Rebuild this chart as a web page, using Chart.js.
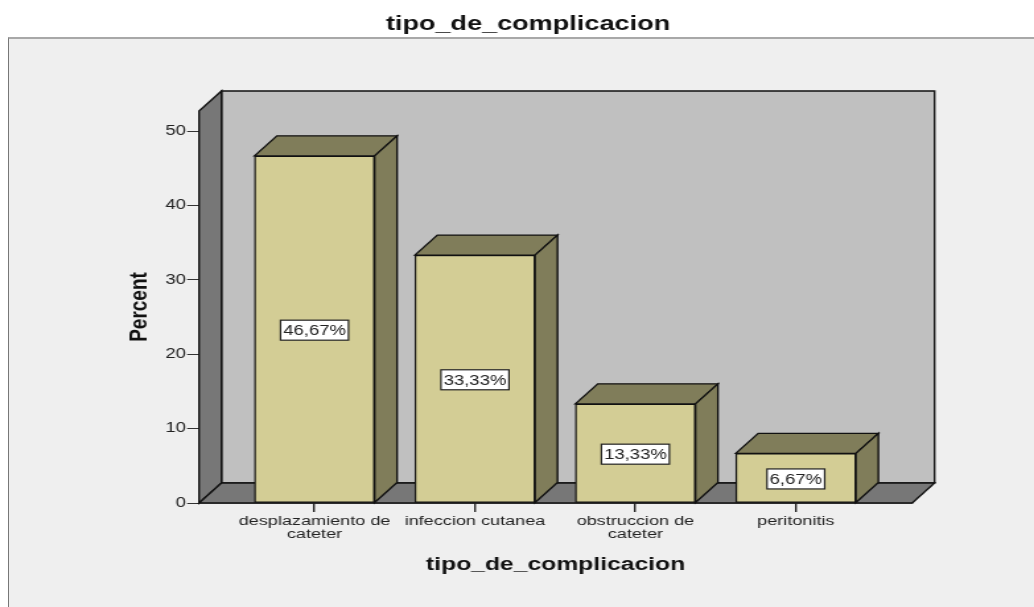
<!DOCTYPE html>
<html lang="en">
<head>
    <meta charset="UTF-8" />
    <title>tipo_de_complicacion</title>
    <script src="https://cdn.jsdelivr.net/npm/chart.js"></script>
    <style>
        html, body { margin: 0; padding: 0; background: #fff; overflow: hidden; }
        #frame {
            position: absolute; left: 8px; top: 37px; right: 0; bottom: 0;
            background: #efefef; border-left: 1.5px solid #777; border-top: 2px solid #a8a8a8;
        }
        /* the reference picture is stretched sideways, so the canvas is too */
        #chart {
            position: absolute; left: 0; top: 0;
            transform-origin: 0 0; transform: scaleX(1.3206);
            filter: blur(0.6px);
        }
    </style>
</head>
<body>
    <div id="frame"></div>
    <canvas id="chart" width="783" height="607"></canvas>

    <script>
        const titleText = 'tipo_de_complicacion';
        const yTitle = 'Percent';
        const tickLabels = [['desplazamiento de', 'cateter'], 'infeccion cutanea', ['obstruccion de', 'cateter'], 'peritonitis'];
        const percents = [46.67, 33.33, 13.33, 6.67];
        const yTicks = [0, 10, 20, 30, 40, 50];

        const depthX = 17;   // 3d offset in canvas pixels
        const depthY = 20;

        function poly(ctx, pts, fill) {
            ctx.beginPath();
            pts.forEach((p, i) => i ? ctx.lineTo(p[0], p[1]) : ctx.moveTo(p[0], p[1]));
            ctx.closePath();
            ctx.fillStyle = fill;
            ctx.fill();
            ctx.strokeStyle = '#111';
            ctx.lineWidth = 1.4;
            ctx.stroke();
        }

        const box3d = {
            id: 'box3d',
            beforeDatasetsDraw(chart) {
                const ctx = chart.ctx;
                const { left, right, top, bottom } = chart.chartArea;
                ctx.save();
                poly(ctx, [[left + depthX, top - depthY], [right + depthX, top - depthY], [right + depthX, bottom - depthY], [left + depthX, bottom - depthY]], '#c0c0c0');
                poly(ctx, [[left, bottom], [left, top], [left + depthX, top - depthY], [left + depthX, bottom - depthY]], '#777777');
                poly(ctx, [[left, bottom], [left + depthX, bottom - depthY], [right + depthX, bottom - depthY], [right, bottom]], '#777777');
                ctx.restore();
            },
            afterDatasetsDraw(chart) {
                const ctx = chart.ctx;
                ctx.save();
                chart.getDatasetMeta(0).data.forEach((bar, i) => {
                    const l = bar.x - bar.width / 2;
                    const r = bar.x + bar.width / 2;
                    poly(ctx, [[l, bar.y], [l + depthX, bar.y - depthY], [r + depthX, bar.y - depthY], [r, bar.y]], '#807d5a');
                    poly(ctx, [[r, bar.y], [r + depthX, bar.y - depthY], [r + depthX, bar.base - depthY], [r, bar.base]], '#807d5a');

                    const label = percents[i].toFixed(2).replace('.', ',') + '%';
                    ctx.font = '14px "Liberation Sans"';
                    const w = ctx.measureText(label).width + 4;
                    const cy = (bar.y + bar.base) / 2 + 1;
                    ctx.fillStyle = '#fff';
                    ctx.strokeStyle = '#222';
                    ctx.lineWidth = 1.2;
                    ctx.fillRect(bar.x - w / 2, cy - 10, w, 20);
                    ctx.strokeRect(bar.x - w / 2, cy - 10, w, 20);
                    ctx.fillStyle = '#222';
                    ctx.textAlign = 'center';
                    ctx.textBaseline = 'middle';
                    ctx.fillText(label, bar.x, cy + 1);
                });
                ctx.restore();
            }
        };

        new Chart(document.getElementById('chart'), {
            type: 'bar',
            plugins: [box3d],
            data: {
                datasets: [{
                    data: percents.map((v, i) => ({ x: i, y: v })),
                    backgroundColor: '#d3cd95',
                    borderColor: '#111',
                    borderWidth: 1.4,
                    borderSkipped: false,
                    barThickness: 91
                }]
            },
            options: {
                responsive: false,
                animation: false,
                layout: { padding: { left: 16.6 } },
                plugins: {
                    legend: { display: false },
                    tooltip: { enabled: false },
                    title: {
                        display: true,
                        text: titleText,
                        color: '#111',
                        font: { family: '"Liberation Sans"', size: 20.5, weight: 'bold' },
                        padding: { top: 12, bottom: 74.4 }
                    }
                },
                scales: {
                    x: {
                        type: 'linear',
                        offset: false,
                        min: -0.72,
                        max: 3.725,
                        afterBuildTicks: s => { s.ticks = tickLabels.map((t, i) => ({ value: i })); },
                        afterFit: s => { s.height = 104; },
                        border: { color: '#111', width: 1.4 },
                        grid: { offset: false, drawOnChartArea: false, color: '#222', lineWidth: 1.4, tickLength: 9 },
                        ticks: {
                            autoSkip: false,
                            maxRotation: 0,
                            padding: 2,
                            color: '#222',
                            font: { family: '"Liberation Sans"', size: 13.7, lineHeight: 1 },
                            callback: (v, i) => tickLabels[i]
                        },
                        title: {
                            display: true,
                            text: titleText,
                            color: '#111',
                            font: { family: '"Liberation Sans"', size: 18.7, weight: 'bold' },
                            padding: { top: 0, bottom: 31 }
                        }
                    },
                    y: {
                        min: 0,
                        max: 52.7,
                        afterBuildTicks: s => { s.ticks = yTicks.map(v => ({ value: v })); },
                        afterFit: s => { s.width = 134.1; },
                        border: { display: false },
                        grid: { drawOnChartArea: false, color: '#333', tickLength: 9 },
                        ticks: {
                            padding: 1,
                            color: '#222',
                            font: { family: '"Liberation Sans"', size: 14 }
                        },
                        title: {
                            display: true,
                            text: yTitle,
                            color: '#111',
                            font: { family: '"Liberation Sans"', size: 19, weight: 'bold' },
                            padding: { top: 78, bottom: 0 }
                        }
                    },
                    // empty axis, only keeps the margin right of the plot
                    spacer: {
                        position: 'right',
                        afterFit: s => { s.width = 92.3; },
                        border: { display: false },
                        grid: { display: false },
                        ticks: { display: false }
                    }
                }
            }
        });
    </script>
</body>
</html>
